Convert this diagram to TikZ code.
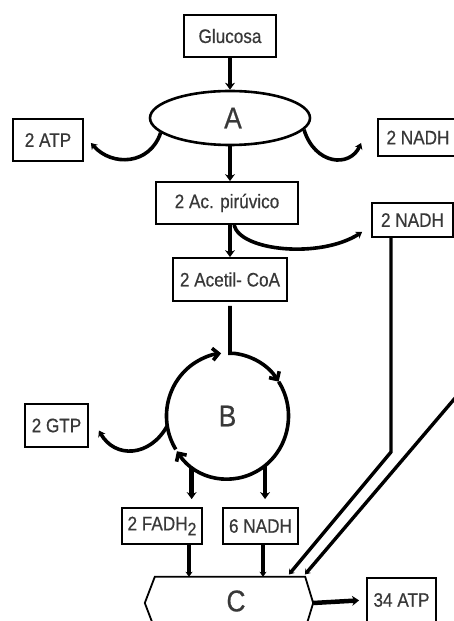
\documentclass[tikz,border=0pt]{standalone}
\usepackage{fontspec}
\setmainfont{Liberation Sans}[FakeStretch=0.88,FakeBold=0.5]
\usetikzlibrary{arrows.meta,calc,shapes.geometric}
\definecolor{txt}{HTML}{383838}
\begin{document}
\begin{tikzpicture}[x=1pt,y=1pt,
  box/.style={draw=black, line width=1.8pt, inner sep=0pt, fill=white,
    font=\fontsize{19.5}{19.5}\selectfont, text=txt},
  big/.style={font=\fontsize{30}{30}\selectfont, text=txt, inner sep=0pt},
  mainarrow/.style={line width=4.5pt, -{Stealth[length=7pt,width=10pt]}},
  curvearrow/.style={line width=3.6pt, -{Stealth[length=6pt,width=8pt]}},
  cyclearrow/.style={line width=3.6pt, -{Straight Barb[length=6pt,width=12pt]}},
  smallarrow/.style={line width=3.4pt, -{Stealth[length=5pt,width=7pt]}},
  hexbox/.style={minimum width=150pt, minimum height=52pt, inner sep=0pt}
]
\useasboundingbox (0,0) rectangle (454,621);

% nodes
\node[box, minimum width=92pt, minimum height=42pt] (glu) at (230,585) {Glucosa};
\node[draw=black, line width=2.6pt, ellipse, minimum width=160pt, minimum height=54pt, inner sep=0pt] (A) at (230,503) {};
\node[big] (Alab) at (233,503) {A};
\node[box, minimum width=70pt, minimum height=42pt] (atp2) at (48,481) {2 ATP};
\node[box, minimum width=80pt, minimum height=37pt] (nadhA) at (418,483.5) {2 NADH};
\node[box, minimum width=142pt, minimum height=42pt] (ac) at (227,418) {2 Ac. pirúvico};
\node[box, minimum width=114pt, minimum height=43pt] (acetil) at (230,341.5) {2 Acetil- CoA};
\node[box, minimum width=81pt, minimum height=34pt] (nadhB) at (412.5,401) {2 NADH};
\node[big] (B) at (227.5,205) {B};
\node[box, minimum width=63pt, minimum height=43pt] (gtp) at (56.5,195.5) {2 GTP};
\node[box, minimum width=80pt, minimum height=36pt] (fadh) at (162,95) {2 FADH\raisebox{-5pt}{\fontsize{18}{18}\selectfont 2}};
\node[box, minimum width=75pt, minimum height=36pt] (nadhC) at (260.5,95) {6 NADH};
\node[hexbox] (C) at (230,18) {};
\node[box, minimum width=69pt, minimum height=44pt] (atp34) at (401.5,21) {34 ATP};

% hexagon C
\draw[line width=1.8pt, fill=white] (C.north west) -- (C.north east) -- ([xshift=8pt]C.east)
  -- (C.south east) -- (C.south west) -- ([xshift=-10pt]C.west) -- cycle;
\node[big] (Clab) at (236,20) {C};

% glycolysis
\draw[mainarrow] (glu.south) -- (A.north);
\draw[mainarrow] (A.south) -- (ac.north -| A.south);
\draw[curvearrow] (A.192) .. controls (150,456) and (112,454) .. ([xshift=7pt,yshift=-3pt]atp2.east);
\draw[curvearrow] (A.-9) .. controls (315,456) and (350,453) .. ([xshift=-16pt,yshift=-5.5pt]nadhA.west);

% pyruvate -> acetyl-CoA
\draw[mainarrow] ([xshift=3pt]ac.south) -- (acetil.north);
\draw[curvearrow] ([xshift=7pt]ac.south) .. controls (240,370) and (320,362) .. ([xshift=-9pt,yshift=-12pt]nadhB.west);

% Krebs cycle
\coordinate (ctop) at ([shift={(84:61 and 63)}]B.center);
\draw[cyclearrow] ([yshift=-4pt]acetil.south) |- (ctop)
  arc[start angle=84, end angle=33, x radius=61, y radius=63];
\draw[cyclearrow] ([shift={(33:61 and 63)}]B.center) arc[start angle=33, end angle=-146, x radius=61, y radius=63];
\draw[cyclearrow] ([shift={(-148:61 and 63)}]B.center) arc[start angle=212, end angle=96, x radius=61, y radius=63];
\draw[curvearrow] ([shift={(189:61 and 63)}]B.center) .. controls (150,164) and (115,162) .. ([xshift=10pt,yshift=-5pt]gtp.east);

\coordinate (b1) at ([shift={(-126:61 and 63)}]B.center);
\coordinate (b2) at ([shift={(-52:61 and 63)}]B.center);
\draw[mainarrow, shorten >=8pt] (b1) -- (b1 |- fadh.north);
\draw[mainarrow, shorten >=8pt] (b2) -- (b2 |- nadhC.north);

% to chain C
\draw[smallarrow] ([xshift=27pt]fadh.south) -- ([xshift=27pt]fadh.south |- C.north);
\draw[smallarrow] ([xshift=2.5pt]nadhC.south) -- ([xshift=2.5pt]nadhC.south |- C.north);
\coordinate (bend) at (391,169);
\coordinate (offR) at (456,224);
\draw[smallarrow, line join=miter, shorten >=3pt] ([xshift=-21.5pt]nadhB.south) -- (bend) -- ([xshift=57pt]C.north);
\draw[smallarrow, shorten >=3pt] (offR) -- ([xshift=73pt]C.north);
\draw[mainarrow, shorten >=7pt] ([xshift=8pt]C.east) -- (atp34.west);
\end{tikzpicture}
\end{document}
